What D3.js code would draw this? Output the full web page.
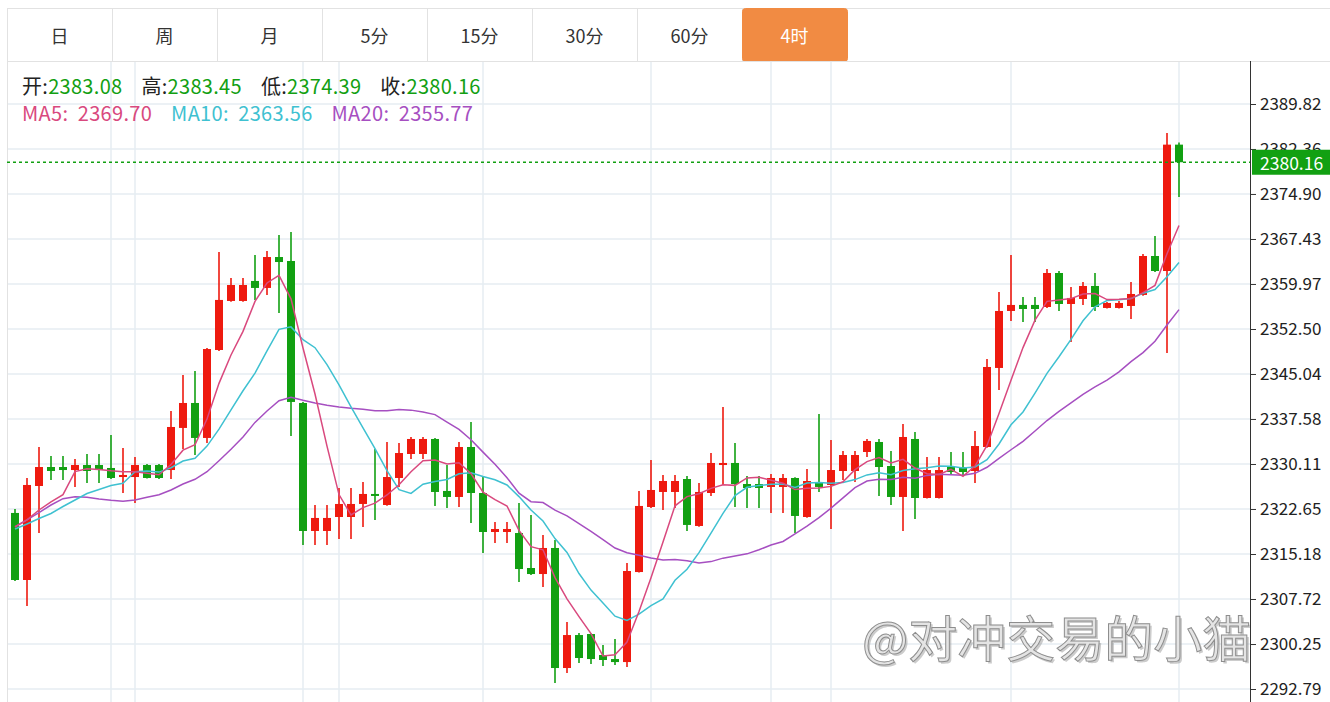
<!DOCTYPE html>
<html><head><meta charset="utf-8">
<script src="https://cdn.jsdelivr.net/npm/d3@7/dist/d3.min.js"></script>
<style>html,body{margin:0;padding:0;background:#fff;overflow:hidden}</style>
</head><body><svg id="c" width="1330" height="702"></svg>
<script>
const tabs = ["日","周","月","5分","15分","30分","60分","4时"];
const activeTab = "4时";
const opens = [2321.99,2310.87,2326.46,2329.61,2329.61,2329.11,2329.94,2329.94,2329.45,2327.95,
2327.95,2329.94,2329.94,2329.11,2336.09,2340.23,2334.43,2349.02,2357.15,2357.15,
2360.47,2359.31,2364.44,2363.78,2340.23,2319.00,2319.00,2321.32,2321.32,2323.48,
2325.14,2323.31,2327.79,2331.77,2331.77,2334.26,2325.64,2324.64,2332.93,2325.30,
2318.83,2318.83,2318.66,2312.86,2311.86,2316.18,2296.27,2301.74,2301.91,2298.43,
2297.76,2297.26,2312.19,2322.98,2325.47,2325.47,2327.62,2319.83,2325.30,2329.94,
2330.28,2326.79,2326.79,2326.30,2326.30,2327.79,2321.32,2327.12,2326.63,2328.95,
2328.95,2332.10,2333.76,2329.78,2324.64,2334.26,2324.47,2324.47,2329.61,2329.61,
2328.95,2332.93,2346.04,2355.49,2356.49,2356.49,2356.15,2361.79,2356.65,2357.48,
2359.64,2355.99,2355.99,2356.32,2358.15,2364.61,2362.12,2383.08];
const closes = [2310.87,2326.63,2329.61,2328.95,2329.11,2329.94,2328.95,2329.11,2327.79,2328.29,
2329.94,2327.79,2327.79,2336.25,2340.23,2334.43,2349.18,2357.32,2359.80,2359.80,
2359.31,2364.44,2363.61,2340.40,2319.00,2321.16,2321.16,2323.48,2323.48,2325.14,
2324.81,2327.95,2331.93,2334.26,2334.26,2325.47,2324.64,2332.93,2325.30,2318.83,
2319.33,2319.33,2312.69,2311.86,2316.18,2296.27,2301.74,2297.93,2297.76,2297.60,
2297.26,2312.36,2323.15,2325.80,2327.29,2327.29,2320.00,2325.47,2330.28,2330.28,
2326.79,2326.13,2326.13,2327.79,2327.79,2321.49,2327.29,2326.30,2329.11,2331.60,
2331.60,2333.93,2329.61,2324.64,2334.59,2324.47,2329.11,2329.11,2328.78,2328.78,
2333.09,2346.20,2355.49,2356.49,2355.82,2355.82,2361.79,2356.65,2357.65,2359.64,
2356.15,2356.82,2356.82,2358.31,2364.61,2362.12,2383.08,2380.16];
const highs = [2322.65,2327.79,2332.93,2331.44,2331.44,2330.94,2331.77,2331.77,2334.93,2332.76,
2331.27,2330.11,2330.11,2338.91,2344.87,2345.54,2349.35,2365.27,2360.97,2360.97,
2364.78,2365.44,2368.09,2368.59,2340.40,2323.31,2323.31,2326.13,2326.13,2327.12,
2332.60,2333.76,2333.59,2334.59,2334.59,2334.43,2329.94,2333.76,2337.08,2327.95,
2320.49,2320.49,2323.65,2321.65,2318.33,2317.50,2303.90,2302.07,2302.00,2300.08,
2301.08,2313.69,2325.64,2330.77,2328.29,2328.29,2328.12,2326.96,2331.93,2339.57,
2333.59,2328.12,2328.12,2328.45,2328.45,2327.90,2329.28,2338.41,2334.09,2332.27,
2332.27,2334.26,2334.26,2332.27,2336.75,2335.42,2331.27,2331.27,2332.10,2332.10,
2335.59,2347.53,2358.64,2364.78,2357.81,2357.81,2362.46,2362.13,2359.47,2360.30,
2361.79,2356.98,2357.15,2360.30,2364.94,2367.93,2385.01,2383.45];
const lows = [2310.71,2306.56,2318.66,2327.46,2327.46,2326.30,2326.96,2326.96,2327.62,2325.30,
2323.65,2327.70,2327.62,2327.62,2332.60,2331.60,2333.60,2348.85,2357.00,2357.00,
2357.32,2358.15,2355.15,2334.76,2316.67,2316.67,2316.67,2317.67,2317.67,2319.66,
2320.83,2323.20,2326.30,2330.94,2330.94,2323.15,2322.82,2322.98,2320.33,2315.35,
2317.00,2317.00,2310.54,2311.70,2309.71,2293.79,2295.44,2297.10,2296.93,2296.60,
2296.77,2296.44,2312.10,2322.82,2322.48,2322.82,2319.00,2319.70,2324.81,2326.63,
2322.98,2322.82,2322.82,2321.99,2321.99,2318.66,2321.20,2325.47,2319.33,2327.46,
2327.12,2331.27,2324.81,2323.31,2319.00,2320.99,2324.40,2324.40,2328.45,2328.29,
2326.96,2332.80,2342.39,2353.83,2353.66,2353.66,2356.00,2355.49,2350.34,2356.49,
2355.49,2355.90,2355.90,2354.16,2358.00,2361.95,2348.52,2374.39];
// moving-average values before a full window of closes is available
const ma5Prior = [2319.66,2320.83,2322.48,2323.81];
const ma10Prior = [2319.33,2320.16,2321.07,2321.90,2323.06,2324.14,2325.22,2325.88,2326.55];
const ma20Prior = [2319.71,2320.83,2322.04,2323.31,2324.36,2324.69,2324.59,2324.31,2324.09,2323.93,
2324.14,2324.59,2325.02,2325.80,2326.79,2327.57,2328.83,2330.66,2332.55];
const yTicks = [2292.79,2300.25,2307.72,2315.18,2322.65,2330.11,2337.58,2345.04,2352.50,2359.97,2367.43,2374.90,2382.36,2389.82];
const gridIdx = [8,10,24,27,39,53,63,68,83,97];
const legendOHLC = [["开","2383.08"],["高","2383.45"],["低","2374.39"],["收","2380.16"]];
const legendMA = [["MA5","2369.70"],["MA10","2363.56"],["MA20","2355.77"]];
const watermark = "@对冲交易的小猫";

const W = 1330, H = 702;
const UP = "#ee1a0f", DOWN = "#12a012";
const maColors = {MA5:"#d9497e", MA10:"#3fc1d1", MA20:"#a64fc1"};
const FONT = "'Noto Sans CJK SC','Noto Sans',sans-serif";
const svg = d3.select("#c").style("font-family", FONT);

const left = 7, axisX = 1250, chartTop = 61;
const x = d3.scaleLinear().domain([0, opens.length - 1]).range([15, 1179]);
const y = d3.scaleLinear().domain([yTicks[0], yTicks[yTicks.length-1]]).range([689, 104]);

// tabs
const tabX = d3.scaleBand().domain(tabs).range([7, 847]);
svg.append("line").attr("x1", 7).attr("x2", W).attr("y1", 8.5).attr("y2", 8.5).attr("stroke", "#e2e2e2");
const tg = svg.append("g");
tg.selectAll("rect").data(tabs).join("rect")
  .attr("x", d => tabX(d) + 0.5).attr("y", 8.5).attr("width", tabX.bandwidth()).attr("height", 53)
  .attr("rx", d => d === activeTab ? 3 : 0)
  .attr("fill", d => d === activeTab ? "#f18b43" : "#fff")
  .attr("stroke", d => d === activeTab ? "#f18b43" : "#e2e2e2");
tg.selectAll("text").data(tabs).join("text")
  .attr("x", d => tabX(d) + tabX.bandwidth()/2).attr("y", 35)
  .attr("text-anchor", "middle").attr("dominant-baseline", "central")
  .attr("font-size", 18).attr("fill", d => d === activeTab ? "#fff" : "#333").text(d => d);

// chart frame + grid
const grid = svg.append("g").attr("stroke", "#e6edf2").attr("stroke-width", 1.5);
grid.selectAll(".h").data(yTicks).join("line").attr("class","h")
  .attr("x1", left).attr("x2", axisX).attr("y1", d => y(d)).attr("y2", d => y(d));
grid.selectAll(".v").data(gridIdx).join("line").attr("class","v")
  .attr("x1", d => x(d)).attr("x2", d => x(d)).attr("y1", chartTop).attr("y2", H);
svg.append("line").attr("x1", left + 0.5).attr("x2", left + 0.5).attr("y1", chartTop).attr("y2", H).attr("stroke", "#e2e2e2");
svg.append("line").attr("x1", left).attr("x2", W).attr("y1", chartTop + 0.5).attr("y2", chartTop + 0.5).attr("stroke", "#e2e2e2");

// watermark
const wm = svg.append("g").attr("font-size", 49).attr("font-family", FONT);
wm.append("text").attr("x", 864).attr("y", 659).attr("fill", "#9a9a9a").attr("opacity", 0.5).text(watermark);
wm.append("text").attr("x", 862).attr("y", 657).attr("fill", "#e4e4e4").attr("stroke", "#8e8e8e").attr("stroke-width", 1).text(watermark);

// moving averages
function ma(n, prior) {
  return closes.map((c, i) => i < n - 1 ? prior[i] : d3.mean(closes.slice(i - n + 1, i + 1)));
}
const maSeries = [["MA20", ma(20, ma20Prior)], ["MA10", ma(10, ma10Prior)], ["MA5", ma(5, ma5Prior)]];

// candles
const idx = d3.range(opens.length);
const cg = svg.append("g");
const c = cg.selectAll("g").data(idx).join("g");
const col = i => closes[i] >= opens[i] ? UP : DOWN;
c.append("line").attr("x1", i => x(i)).attr("x2", i => x(i))
  .attr("y1", i => y(highs[i])).attr("y2", i => y(lows[i]))
  .attr("stroke", col).attr("stroke-width", 1.6);
c.append("rect").attr("x", i => x(i) - 4).attr("width", 8)
  .attr("y", i => y(Math.max(opens[i], closes[i])))
  .attr("height", i => Math.max(1.5, Math.abs(y(opens[i]) - y(closes[i]))))
  .attr("fill", col);

const lineGen = d3.line().x((d, i) => x(i)).y(d => y(d));
svg.append("g").selectAll("path").data(maSeries).join("path")
  .attr("d", d => lineGen(d[1])).attr("fill", "none")
  .attr("stroke", d => maColors[d[0]]).attr("stroke-width", 1.5);

// last price dotted line
const last = closes[closes.length - 1];
svg.append("line").attr("x1", left).attr("x2", axisX).attr("y1", y(last)).attr("y2", y(last))
  .attr("stroke", DOWN).attr("stroke-width", 1.5).attr("stroke-dasharray", "3,3");

// axis
const ax = svg.append("g").attr("transform", `translate(${axisX},0)`)
  .call(d3.axisRight(y).tickValues(yTicks).tickSize(6).tickPadding(4).tickFormat(d => d.toFixed(2)));
ax.select(".domain").remove();
ax.selectAll(".tick line").attr("stroke", "#333");
ax.selectAll(".tick text").attr("font-size", 17).attr("fill", "#222").attr("font-family", FONT);
svg.append("line").attr("x1", axisX + 0.5).attr("x2", axisX + 0.5).attr("y1", chartTop).attr("y2", H).attr("stroke", "#333");

// last price tag
svg.append("rect").attr("x", axisX + 2).attr("y", y(last) - 12.5).attr("width", W - axisX - 2).attr("height", 25).attr("fill", DOWN);
svg.append("text").attr("x", axisX + 10).attr("y", y(last)).attr("dominant-baseline", "central")
  .attr("font-size", 17.5).attr("fill", "#fff").text(last.toFixed(2));

// legend
let lx = 22;
const lg = svg.append("g").attr("font-size", 20).attr("letter-spacing", 0.3);
legendOHLC.forEach(([k, v]) => {
  const t = lg.append("text").attr("x", lx).attr("y", 85).attr("dominant-baseline", "central");
  t.append("tspan").attr("fill", "#222").text(k + ":");
  t.append("tspan").attr("fill", DOWN).text(v);
  lx += t.node().getComputedTextLength() + 19;
});
lx = 22;
legendMA.forEach(([k, v]) => {
  const t = lg.append("text").attr("x", lx).attr("y", 112).attr("dominant-baseline", "central")
    .attr("fill", maColors[k]).attr("xml:space", "preserve").text(k + ":  " + v);
  lx += t.node().getComputedTextLength() + 19;
});
</script></body></html>
